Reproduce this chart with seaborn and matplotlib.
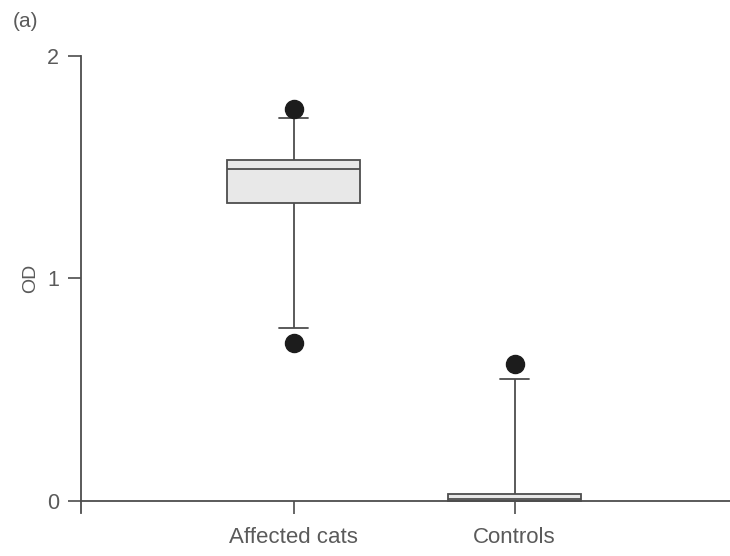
import matplotlib
matplotlib.use("Agg")
import matplotlib.pyplot as plt
import numpy as np
import pandas as pd
import seaborn as sns

# Box-plot summaries of optical density (OD) per group
groups = ["Affected cats", "Controls"]
q1 = [1.338, 0.000]
median = [1.491, 0.006]
q3 = [1.531, 0.030]
whisker_lo = [0.775, 0.000]
whisker_hi = [1.721, 0.548]
outlier_lo = [0.707, None]
outlier_hi = [1.761, 0.613]

# Nine-value sample per group whose quartiles, 12.5/87.5 percentiles and
# extremes reproduce each summary exactly
rows = []
for i, g in enumerate(groups):
    lo = outlier_lo[i] if outlier_lo[i] is not None else whisker_lo[i]
    sample = [lo, whisker_lo[i], q1[i], q1[i], median[i],
              q3[i], q3[i], whisker_hi[i], outlier_hi[i]]
    rows += [(g, v) for v in sample]
df = pd.DataFrame(rows, columns=["group", "OD"])

sns.set_style("ticks")
plt.rcParams["font.family"] = ["Liberation Sans", "DejaVu Sans"]

line_c = "#4d4d4d"
text_c = "#5a5a5a"

fig = plt.figure(figsize=(7.30, 5.56), dpi=100)
ax = fig.add_axes([0.111, 0.0773, 0.889, 0.822])

sns.boxplot(
    data=df, x="group", y="OD", order=groups, ax=ax,
    whis=(12.5, 87.5), width=0.605, color="#e8e8e8", saturation=1,
    linecolor=line_c, linewidth=1.3, fliersize=13,
    flierprops=dict(marker="o", markerfacecolor="#1c1c1c",
                    markeredgecolor="#1c1c1c"),
    capwidths=0.13,
)

ax.set_xlim(-0.962, 1.975)
ax.set_ylim(-0.056, 2.0)
ax.set_yticks([0, 1, 2])
ax.set_yticklabels(["0", "1", "2"])

for side in ("top", "right"):
    ax.spines[side].set_visible(False)
ax.spines["bottom"].set_position(("data", 0))
for side in ("left", "bottom"):
    ax.spines[side].set_color(line_c)
    ax.spines[side].set_linewidth(1.3)

ax.tick_params(axis="y", length=9.4, width=1.2, color=line_c, pad=6.5,
               labelsize=15.5, labelcolor=text_c)
ax.tick_params(axis="x", length=9, width=1.2, color=line_c, pad=10,
               labelsize=16, labelcolor=text_c)

ax.set_xlabel("")
ax.set_ylabel("OD", fontsize=14, color=text_c)
ax.yaxis.label.set_va("center")
ax.yaxis.set_label_coords(-0.077, 0.514)

fig.text(0.018, 0.962, "(a)", fontsize=15, color=text_c, ha="left", va="center")

fig.savefig("out.png", dpi=100, facecolor="white")
